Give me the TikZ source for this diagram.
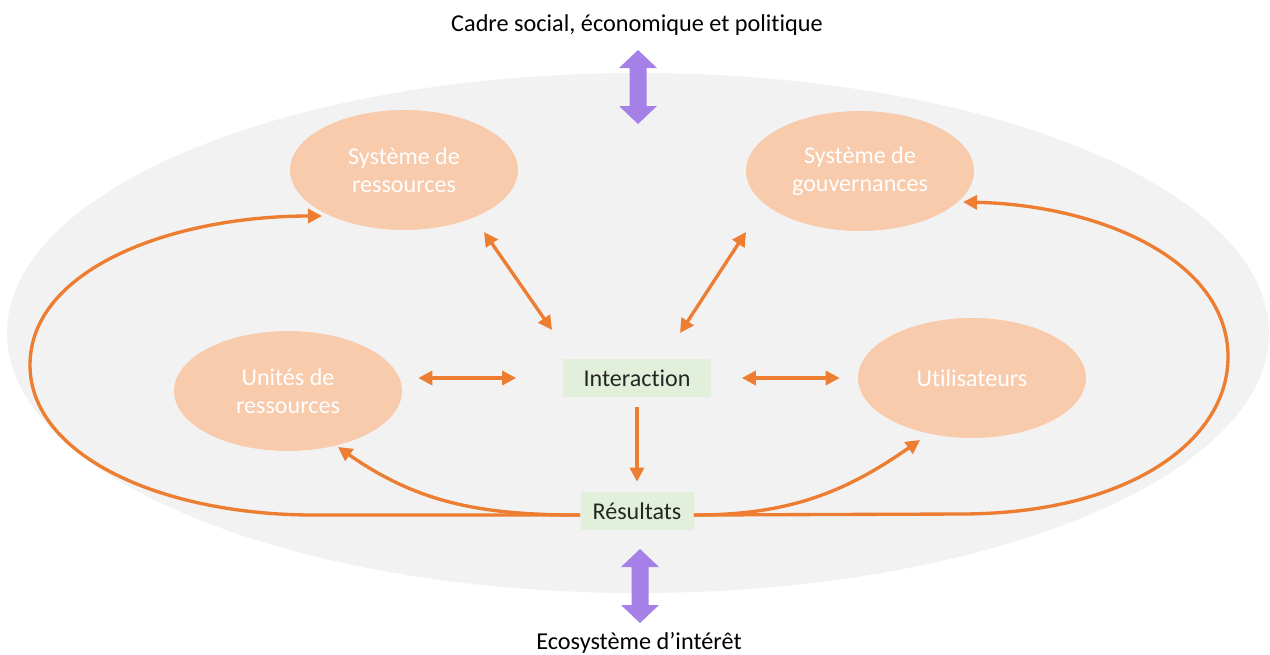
\documentclass[tikz,border=0pt]{standalone}
\usepackage{fontspec}
\setmainfont{Carlito}[Ligatures=NoCommon]
\usepackage{xcolor}
\usepackage{tikz}
\usetikzlibrary{arrows.meta, shapes.geometric, positioning}
\definecolor{fondgris}{HTML}{F2F2F2}
\definecolor{peche}{HTML}{F8CBAD}
\definecolor{vertpale}{HTML}{E2EFDA}
\definecolor{orangefleche}{HTML}{ED7D31}
\definecolor{violetfleche}{RGB}{165,128,230}

\begin{document}
\begin{tikzpicture}[x=0.02cm, y=-0.02cm,
    bloc/.style={ellipse, fill=peche, text=white, minimum width=4.56cm, minimum height=2.4cm,
        align=center, font=\fontsize{13.7}{16}\selectfont},
    boite/.style={fill=vertpale, text=black!85, minimum height=0.76cm, inner sep=0pt,
        font=\fontsize{13.7}{16}\selectfont},
    fleche/.style={draw=orangefleche, line width=1.9pt, -{Triangle[length=8pt,width=8pt]}},
    dfleche/.style={fleche, {Triangle[length=8pt,width=8pt]}-{Triangle[length=8pt,width=8pt]}}]
    \useasboundingbox (0,0) rectangle (1270,654);
    \fill[fondgris] (638,333) ellipse [x radius=631, y radius=260];

    \node[font=\fontsize{13.8}{16}\selectfont] (cadre) at (637,25) {Cadre social, économique et politique};
    \node[font=\fontsize{13.8}{16}\selectfont] (eco) at (639,643) {Ecosystème d’intérêt};
    % grosses fleches violettes
    \foreach \cx/\cy in {638/87, 640/586}
        \fill[violetfleche] (\cx,\cy-37) -- (\cx+19,\cy-19) -- (\cx+8.5,\cy-19) -- (\cx+8.5,\cy+19)
            -- (\cx+19,\cy+19) -- (\cx,\cy+37) -- (\cx-19,\cy+19) -- (\cx-8.5,\cy+19)
            -- (\cx-8.5,\cy-19) -- (\cx-19,\cy-19) -- cycle;

    \node[bloc] (sysres) at (404,170) {Système de\\ressources};
    \node[bloc] (sysgouv) at (860,171) {Système de\\gouvernances};
    \node[bloc] (unites) at (288,391) {Unités de\\ressources};
    \node[bloc] (util) at (972,378) {Utilisateurs};
    \node[boite, minimum width=2.98cm] (inter) at (637,378) {Interaction};
    \node[boite, minimum width=2.26cm] (res) at (637,511) {Résultats};

    \draw[fleche, shorten <=0.2cm, shorten >=0.2cm] (inter) -- (res);
    \draw[dfleche, shorten <=0.32cm, shorten >=0.92cm] (unites.east |- inter) -- (inter.west);
    \draw[dfleche, shorten <=0.6cm, shorten >=0.36cm] (inter.east) -- (util.west |- inter);
    \draw[dfleche] ([shift={(80,62)}]sysres.center) -- ([shift={(-85,-48)}]inter.center);
    \draw[dfleche] ([shift={(-114,61)}]sysgouv.center) -- ([shift={(43,-45)}]inter.center);

    \draw[fleche] ([yshift=-0.08cm]res.west) to[out=180, in=-35] ([shift={(50,56)}]unites.center);
    \draw[fleche] ([yshift=-0.08cm]res.east) to[out=0, in=215] ([shift={(-52,62)}]util.center);

    % grandes boucles
    \draw[fleche] ([yshift=-0.08cm]res.west) -- (314,515) .. controls (160,515) and (30,455) .. (30,365)
        .. controls (30,270) and (170,216) .. ([shift={(-82,46)}]sysres.center);
    \draw[fleche] ([yshift=-0.08cm]res.east) -- (960,514) .. controls (1130,514) and (1228,440) .. (1228,357)
        .. controls (1228,260) and (1100,205) .. ([shift={(103,31)}]sysgouv.center);
\end{tikzpicture}
\end{document}
